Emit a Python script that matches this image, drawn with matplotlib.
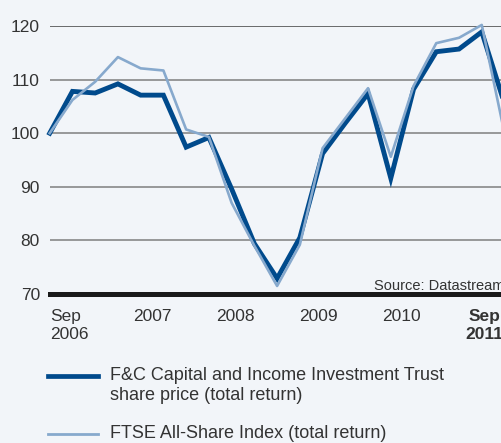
import matplotlib
matplotlib.use('Agg')
import matplotlib.pyplot as plt
from matplotlib.lines import Line2D

plt.rcParams['font.family'] = ['Liberation Sans', 'DejaVu Sans']

# Quarterly values, Sep 2006 = 100 (total return)
quarter = list(range(21))
fc_price = [100, 107.8, 107.5, 109.2, 107.1, 107.1, 97.4, 99.2, 89.6, 79.4, 72.9,
            80.5, 96.2, 101.9, 107.4, 91.6, 108.2, 115.2, 115.7, 118.9, 105.5]
ftse = [100, 106.2, 109.6, 114.2, 112.1, 111.7, 100.7, 99.3, 87.0, 79.0, 71.5,
        79.2, 97.2, 102.8, 108.4, 95.6, 108.8, 116.8, 117.8, 120.2, 100.0]

yticks = [70, 80, 90, 100, 110, 120]
xlabel_pos = [0, 4.5, 8.15, 11.8, 15.45, 19.1]
xlabels = ['Sep\n2006', '2007', '2008', '2009', '2010', 'Sep\n2011']

dark = '#004a8c'
light = '#87a9cd'
bg = '#f2f5f9'

W, H = 502, 443
fig = plt.figure(figsize=(W / 100, H / 100), dpi=100, facecolor=bg)

# axes in pixel terms
x0, step = 49.7, 22.74
xmax = 20.6
ax = fig.add_axes([x0 / W, (H - 294) / H, xmax * step / W, (294 - 26) / H])
ax.set_facecolor(bg)
ax.set_xlim(0, xmax)
ax.set_ylim(70, 120)

for v in yticks[1:]:
    ax.axhline(v, color='#444444' if v == 120 else '#7f7f7f', lw=1.1, zorder=1)
ax.axhline(70, color='#1a1a1a', lw=3.6, zorder=4, clip_on=False)

ax.plot(quarter, ftse, color=light, lw=1.9, zorder=3, clip_on=False)
ax.plot(quarter, fc_price, color=dark, lw=3.5, zorder=2, clip_on=False,
        solid_joinstyle='miter')

for s in ax.spines.values():
    s.set_visible(False)
ax.set_xticks([])
ax.set_yticks(yticks)
ax.set_yticklabels([str(v) for v in yticks], fontsize=12.5, color='#333333')
ax.tick_params(axis='y', length=0, pad=7)

for i, (p, lab) in enumerate(zip(xlabel_pos, xlabels)):
    bold = i == len(xlabels) - 1
    ax.text(p, -0.055, lab, transform=ax.get_xaxis_transform(),
            ha='left' if i == 0 else 'center', va='top', fontsize=12.5,
            color='#333333', fontweight='bold' if bold else 'normal',
            linespacing=1.25)

fig.text(374 / W, (H - 290) / H, 'Source: Datastream', fontsize=10.5,
         color='#333333', ha='left', va='baseline')

# legend
fig.add_artist(Line2D([48 / W, 98 / W], [(H - 376) / H] * 2, color=dark,
                      lw=3.4, transform=fig.transFigure))
fig.add_artist(Line2D([48 / W, 98 / W], [(H - 434) / H] * 2, color=light,
                      lw=2.0, transform=fig.transFigure))
fig.text(110 / W, (H - 367) / H,
         'F&C Capital and Income Investment Trust\nshare price (total return)',
         fontsize=13, color='#333333', ha='left', va='top', linespacing=1.22)
fig.text(110 / W, (H - 434) / H, 'FTSE All-Share Index (total return)',
         fontsize=13, color='#333333', ha='left', va='center')

fig.savefig('out.png', dpi=100, facecolor=bg)
